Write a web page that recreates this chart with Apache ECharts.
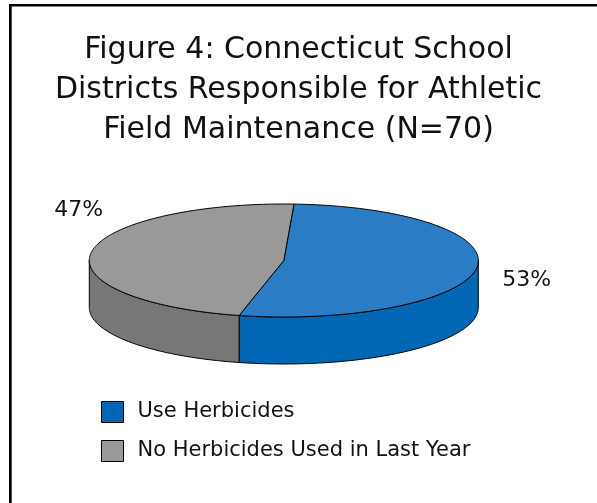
<!DOCTYPE html>
<html><head><meta charset="utf-8">
<script src="https://cdn.jsdelivr.net/npm/echarts@6/dist/echarts.min.js"></script>
<style>html,body{margin:0;padding:0;background:#fff}#c{width:597px;height:503px}</style>
</head><body><div id="c"></div>
<script>
// ---- data ----
const categories = ['Use Herbicides', 'No Herbicides Used in Last Year'];
const values = [37, 33];
const titleLines = ['Figure 4: Connecticut School', 'Districts Responsible for Athletic', 'Field Maintenance (N=70)'];

// ---- styles ----
const topColors = ['#2A7DC4', '#999999'];
const sideColors = ['#0067B4', '#777777'];
const legendColors = ['#0066B3', '#999999'];
const labelOffsets = [[26, 12, 'left'], [12, -42, 'right']];
const pie = {cx: 283.8, cy: 260.5, a: 194.5, b: 56.5, depth: 47, startAngle: 87};
const FONT = '"DejaVu Sans", "Open Sans", sans-serif';

const total = values.reduce((s, v) => s + v, 0);
function sliceAngles(i) {
  let before = 0;
  for (let k = 0; k < i; k++) before += values[k];
  const s = -pie.startAngle * Math.PI / 180;
  const t0 = s + before / total * 2 * Math.PI;
  const t1 = t0 + values[i] / total * 2 * Math.PI;
  return [t0, t1];
}
function pt(t, dy) { return [pie.cx + pie.a * Math.cos(t), pie.cy + pie.b * Math.sin(t) + (dy || 0)]; }
function arc(t0, t1, dy) {
  const n = Math.max(2, Math.ceil(Math.abs(t1 - t0) / (Math.PI / 180)));
  const out = [];
  for (let j = 0; j <= n; j++) out.push(pt(t0 + (t1 - t0) * j / n, dy));
  return out;
}
function renderSlice(i) {
  return function (params, api) {
    const [t0, t1] = sliceAngles(i);
    const children = [];
    for (let k = -1; k <= 1; k++) {
      const lo = Math.max(t0, 2 * k * Math.PI), hi = Math.min(t1, 2 * k * Math.PI + Math.PI);
      if (hi > lo) {
        const top = arc(lo, hi, 0), bot = arc(hi, lo, pie.depth);
        children.push({type: 'polygon', z2: 0, shape: {points: top.concat(bot)},
          style: {fill: sideColors[i], stroke: '#000', lineWidth: 1, lineJoin: 'round'}});
      }
    }
    const face = [[pie.cx, pie.cy]].concat(arc(t0, t1, 0));
    children.push({type: 'polygon', z2: 10, shape: {points: face},
      style: {fill: topColors[i], stroke: '#000', lineWidth: 1, lineJoin: 'round'}});
    const tm = (t0 + t1) / 2, p = pt(tm, 0), off = labelOffsets[i];
    const pct = Math.round(values[i] / total * 100) + '%';
    children.push({type: 'text', z2: 20, style: {text: pct, x: p[0] + off[0], y: p[1] + off[1],
      align: off[2], verticalAlign: 'middle', fill: '#111', fontSize: 22, fontFamily: FONT}});
    return {type: 'group', children};
  };
}

const chart = echarts.init(document.getElementById('c'), null, {renderer: 'canvas'});
chart.setOption({
  animation: false,
  backgroundColor: '#fff',
  title: {
    text: titleLines.join('\n'), left: 'center', top: 25, padding: [5, 0, 5, 7],
    textStyle: {fontSize: 30, fontWeight: 'normal', color: '#111', fontFamily: FONT, lineHeight: 40}
  },
  legend: {
    orient: 'vertical', left: 101, top: 401, padding: 0, itemWidth: 22, itemHeight: 21, itemGap: 17,
    icon: 'rect', data: categories,
    itemStyle: {borderColor: '#000', borderWidth: 1},
    textStyle: {fontSize: 21, color: '#111', fontFamily: FONT, padding: [0, 0, 0, 9]}
  },
  graphic: [
    {type: 'rect', shape: {x: 9, y: 4, width: 588, height: 2.5}, style: {fill: '#000'}},
    {type: 'rect', shape: {x: 9, y: 4, width: 2.7, height: 499}, style: {fill: '#000'}}
  ],
  series: categories.map((name, i) => ({
    type: 'custom', name: name, coordinateSystem: 'none',
    itemStyle: {color: legendColors[i], borderColor: '#000', borderWidth: 1},
    data: [[values[i]]],
    renderItem: renderSlice(i)
  }))
});
</script></body></html>
